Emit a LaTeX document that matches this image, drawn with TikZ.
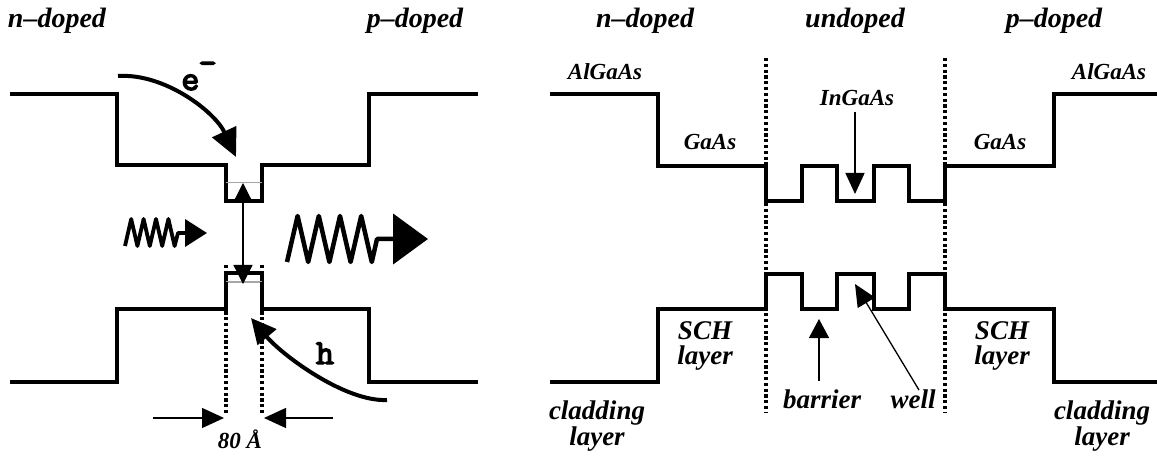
\documentclass[tikz,border=0pt]{standalone}
\usepackage{fontspec}
\setmainfont{Liberation Serif}
\newfontfamily\lblfont{Liberation Serif}
\newfontfamily\mfont{Latin Modern Mono}[FakeBold=4]
\usetikzlibrary{arrows.meta}
\begin{document}
\begin{tikzpicture}[x=1pt,y=-1pt,
  band/.style={line width=4pt, line join=miter},
  divider/.style={line width=4pt, dash pattern=on 3.2pt off 2.6pt},
  thinarrow/.style={line width=1.3pt},
  photon/.style={line width=4.5pt, line join=round},
  curvy/.style={line width=4pt},
  lblbig/.style={font=\lblfont\bfseries\itshape\fontsize{28}{30}\selectfont, inner sep=0pt, anchor=base},
  lblmid/.style={font=\lblfont\bfseries\itshape\fontsize{27}{29}\selectfont, inner sep=0pt, anchor=base, align=center},
  lblsmall/.style={font=\lblfont\bfseries\itshape\fontsize{23}{25}\selectfont, inner sep=0pt, anchor=base},
  carrier/.style={font=\mfont\fontsize{35}{37}\selectfont, inner sep=0pt, anchor=base},
]
\useasboundingbox (0,0) rectangle (1157,457);
\fill[white] (0,0) rectangle (1157,457);

% ---------- left diagram: bands ----------
\draw[band] (10,94) -- (117,94) -- (117,165) -- (226,165) -- (226,201) -- (262,201)
  -- (262,165) -- (369,165) -- (369,94) -- (478,94);
\draw[band] (10,382) -- (117,382) -- (117,309) -- (226,309) -- (226,273) -- (262,273)
  -- (262,309) -- (369,309) -- (369,382) -- (478,382);
\draw[gray!70, line width=1pt] (226,183) -- (262,183);
\draw[gray!70, line width=1pt] (226,282) -- (262,282);

% dotted width markers
\draw[divider] (226,265) -- (226,414);
\draw[divider] (262,265) -- (262,414);

% vertical transition arrow
\coordinate (cbw) at (243,183);
\coordinate (vbw) at (243,284);
\draw[thinarrow, {Triangle[length=19pt,width=19pt]}-{Triangle[length=19pt,width=19pt]}] (cbw) -- (vbw);

% dimension arrows
\coordinate (dl0) at (153,418); \coordinate (dl1) at (224,418);
\coordinate (dr0) at (333,418); \coordinate (dr1) at (264,418);
\draw[thinarrow, -{Triangle[length=22pt,width=20pt]}] (dl0) -- (dl1);
\draw[thinarrow, -{Triangle[length=22pt,width=20pt]}] (dr0) -- (dr1);
\node[lblsmall] (width) at (240,448) {80 Å};

% electron and hole arrows
\coordinate (eS) at (118,76); \coordinate (eE) at (236,157);
\draw[curvy, -{Triangle[length=28pt,width=26pt]}] (eS) .. controls (165,73) and (215,112) .. (eE);
\node[carrier] (elabel) at (199,90) {e\raisebox{0.46em}{\kern-0.02em-}};
\coordinate (hS) at (387,400); \coordinate (hE) at (251,318);
\draw[curvy, -{Triangle[length=25pt,width=24pt]}] (hS) .. controls (345,402) and (282,355) .. (hE);
\node[carrier] (hlabel) at (325,364) {h};

% photons
\draw[photon, line width=3.8pt, -{Triangle[length=22pt,width=27pt]}]
  (125,246) -- (131.2,219) -- (137.4,246) -- (143.6,219) -- (149.8,246) -- (156,219)
  -- (162.2,246) -- (168.4,219) -- (174.6,246) -- (178,233) -- (207,233);
\draw[photon, -{Triangle[length=35pt,width=50pt]}]
  (287,262) -- (297.6,216) -- (308.2,262) -- (318.8,216) -- (329.4,262) -- (340,216)
  -- (350.6,262) -- (361.2,216) -- (371.8,262) -- (377,239) -- (428,239);

% left labels
\node[lblbig] (ln) at (57,28) {n\textendash doped};
\node[lblbig] (lp) at (415,28) {p\textendash doped};

% ---------- right diagram ----------
\draw[band] (550,94) -- (658,94) -- (658,166) -- (766,166) -- (766,201) -- (802,201)
  -- (802,166) -- (837,166) -- (837,201) -- (874,201) -- (874,166) -- (909,166)
  -- (909,201) -- (945,201) -- (945,166) -- (1054,166) -- (1054,94) -- (1157,94);
\draw[band] (550,382) -- (658,382) -- (658,309) -- (766,309) -- (766,274) -- (802,274)
  -- (802,309) -- (837,309) -- (837,274) -- (874,274) -- (874,309) -- (909,309)
  -- (909,274) -- (945,274) -- (945,309) -- (1054,309) -- (1054,382) -- (1157,382);
\draw[divider] (766,58) -- (766,413);
\draw[divider] (945,58) -- (945,413);

\node[lblbig] (rn) at (645,28) {n\textendash doped};
\node[lblbig] (ru) at (855,28) {undoped};
\node[lblbig] (rp) at (1054,28) {p\textendash doped};

\node[lblsmall] (alg1) at (605,80) {AlGaAs};
\node[lblsmall] (alg2) at (1109,80) {AlGaAs};
\node[lblsmall] (gaas1) at (710,150) {GaAs};
\node[lblsmall] (gaas2) at (1000,150) {GaAs};
\node[lblsmall] (ingaas) at (857,106) {InGaAs};

\node[lblmid] (sch1) at (705,339) {SCH};
\node[lblmid] (sch1b) at (705,364) {layer};
\node[lblmid] (sch2) at (1002,339) {SCH};
\node[lblmid] (sch2b) at (1002,364) {layer};
\node[lblmid] (clad1) at (597,419) {cladding};
\node[lblmid] (clad1b) at (597,445) {layer};
\node[lblmid] (clad2) at (1102,419) {cladding};
\node[lblmid] (clad2b) at (1102,445) {layer};
\node[lblmid] (barr) at (822,408) {barrier};
\node[lblmid] (well) at (913,408) {well};

\coordinate (inS) at (855,112); \coordinate (inE) at (855,194);
\draw[thinarrow, -{Triangle[length=21pt,width=19pt]}] (inS) -- (inE);
\coordinate (bS) at (819,381); \coordinate (bE) at (819,319);
\draw[thinarrow, -{Triangle[length=19pt,width=20pt]}] (bS) -- (bE);
\coordinate (wS) at (919,390); \coordinate (wE) at (855,284);
\draw[thinarrow, -{Triangle[length=22pt,width=20pt]}] (wS) -- (wE);
\end{tikzpicture}
\end{document}
